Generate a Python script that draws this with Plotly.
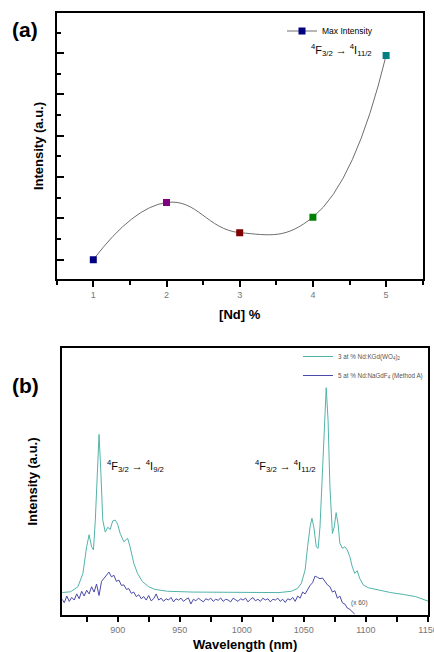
import plotly.graph_objects as go

# ---- Panel (a) data ----
nd_percent = [1, 2, 3, 4, 5]
max_intensity = [0.0, 2.77, 1.31, 2.06, 9.89]
point_colors = ["#000080", "#800080", "#800000", "#008000", "#008080"]

# ---- Panel (b) data ----
kgw_wl = [855, 862, 868, 872, 875, 877, 879, 880.5, 882, 883.5, 885, 886.5, 888, 890, 892, 894,
          896, 898, 900, 902, 905, 908, 910, 913, 916, 920, 925, 930, 940, 960, 1000, 1030, 1040,
          1045, 1048, 1051, 1053, 1055, 1056.5, 1058, 1060, 1061.5, 1063, 1065, 1066.5, 1068,
          1069.5, 1071, 1073, 1074.5, 1076, 1077.5, 1079, 1081, 1083, 1085, 1087, 1089, 1091,
          1093, 1095, 1098, 1102, 1110, 1120, 1130, 1140, 1150]
kgw_int = [0.083, 0.086, 0.105, 0.155, 0.255, 0.30, 0.255, 0.243, 0.355, 0.53, 0.677, 0.53, 0.355,
           0.31, 0.328, 0.32, 0.352, 0.355, 0.34, 0.305, 0.274, 0.287, 0.255, 0.193, 0.155, 0.124,
           0.105, 0.095, 0.088, 0.085, 0.083, 0.083, 0.088, 0.099, 0.118, 0.168, 0.255, 0.33,
           0.362, 0.33, 0.255, 0.249, 0.33, 0.543, 0.73, 0.852, 0.73, 0.48, 0.305, 0.33, 0.383,
           0.343, 0.268, 0.249, 0.255, 0.243, 0.218, 0.18, 0.155, 0.165, 0.136, 0.111, 0.101,
           0.093, 0.083, 0.076, 0.068, 0.051]

ngf_wl = list(range(855, 1092, 2))
ngf_int = [0.060, 0.045, 0.070, 0.050, 0.065, 0.055, 0.078, 0.060, 0.088, 0.070,
           0.092, 0.078, 0.105, 0.085, 0.115, 0.072, 0.125, 0.138, 0.150, 0.160,
           0.142, 0.148, 0.125, 0.130, 0.110, 0.112, 0.095, 0.098, 0.080, 0.085,
           0.068, 0.075, 0.060, 0.068, 0.055, 0.072, 0.052, 0.060, 0.078, 0.055,
           0.062, 0.050, 0.060, 0.055, 0.065, 0.048, 0.060, 0.055, 0.062, 0.050,
           0.058, 0.063, 0.040, 0.058, 0.052, 0.062, 0.055, 0.048, 0.060, 0.055,
           0.062, 0.050, 0.058, 0.054, 0.063, 0.050, 0.058, 0.055, 0.048, 0.062,
           0.056, 0.050, 0.060, 0.055, 0.062, 0.048, 0.058, 0.064, 0.052, 0.058,
           0.050, 0.062, 0.055, 0.060, 0.048, 0.058, 0.055, 0.062, 0.050, 0.058,
           0.046, 0.060, 0.055, 0.065, 0.050, 0.070, 0.062, 0.085, 0.078, 0.095,
           0.110, 0.120, 0.145, 0.140, 0.135, 0.138, 0.125, 0.112, 0.105, 0.085,
           0.090, 0.062, 0.070, 0.045, 0.040, 0.025, 0.020, 0.010, 0.002]

W, H = 434, 652
def px(x): return x / W
def py(y): return 1 - y / H

FONT = "Liberation Sans, Arial, sans-serif"

fig = go.Figure()

fig.add_trace(go.Scatter(
    x=nd_percent, y=max_intensity, mode="lines+markers", name="Max Intensity",
    line=dict(shape="spline", smoothing=1.3, color="#6e6e6e", width=1),
    marker=dict(symbol="square", size=7, color=point_colors, line=dict(width=0)),
    xaxis="x", yaxis="y", legend="legend"))

fig.add_trace(go.Scatter(
    x=kgw_wl, y=kgw_int, mode="lines", name="3 at % Nd:KGd(WO<sub>4</sub>)<sub>2</sub>",
    line=dict(color="#52b3ab", width=1), xaxis="x2", yaxis="y2", legend="legend2"))
fig.add_trace(go.Scatter(
    x=ngf_wl, y=ngf_int, mode="lines", name="5 at % Nd:NaGdF<sub>4</sub> (Method A)",
    line=dict(color="#4a4aa8", width=1), xaxis="x2", yaxis="y2", legend="legend2"))

axis_common = dict(showline=True, linecolor="black", linewidth=2, mirror=True,
                   showgrid=False, zeroline=False, automargin=False,
                   ticklabeloverflow="allow")

fig.update_layout(
    width=W, height=H, margin=dict(l=0, r=0, t=0, b=0, autoexpand=False),
    paper_bgcolor="white", plot_bgcolor="white",
    font=dict(family=FONT, color="black"),
    xaxis=dict(domain=[px(56.7), px(422.7)], anchor="y", range=[0.5, 5.5],
               tickmode="array", tickvals=nd_percent, ticks="outside", ticklen=6,
               tickwidth=1.5, tickcolor="black",
               minor=dict(dtick=0.5, tick0=0.5, ticks="outside", ticklen=4, tickcolor="black"),
               tickfont=dict(size=9, color="#777777"),
               title=dict(text="<b>[Nd] %</b>", font=dict(size=13), standoff=11),
               **axis_common),
    yaxis=dict(domain=[py(279.3), py(12.7)], anchor="x", range=[-0.95, 11.96],
               tick0=0, dtick=2, ticks="inside", ticklen=7, tickwidth=1.5, tickcolor="black",
               minor=dict(dtick=1, tick0=0, ticks="inside", ticklen=4, tickcolor="black"),
               showticklabels=False,
               title=dict(text="<b>Intensity (a.u.)</b>", font=dict(size=13), standoff=8),
               **axis_common),
    xaxis2=dict(domain=[px(62.3), px(428)], anchor="y2", range=[855.4, 1150],
                tick0=900, dtick=50, ticks="outside", ticklen=5, tickwidth=1.5, tickcolor="black",
                minor=dict(dtick=25, tick0=875, ticks="outside", ticklen=5, tickcolor="black"),
                tickfont=dict(size=9, color="#777777"),
                title=dict(text="<b>Wavelength (nm)</b>", font=dict(size=13), standoff=12),
                **axis_common),
    yaxis2=dict(domain=[py(614.7), py(348.3)], anchor="x2", range=[0, 1],
                ticks="", showticklabels=False,
                title=dict(text="<b>Intensity (a.u.)</b>", font=dict(size=13), standoff=20),
                **axis_common),
    legend=dict(x=px(282), y=py(31), xanchor="left", yanchor="middle",
                bgcolor="rgba(0,0,0,0)", font=dict(size=8.5, color="black"),
                itemwidth=30, tracegroupgap=0),
    legend2=dict(x=px(298), y=py(366), xanchor="left", yanchor="middle",
                 bgcolor="rgba(0,0,0,0)", font=dict(size=6.3, color="#555555"),
                 itemwidth=30, tracegroupgap=0),
    showlegend=True,
)

def note(x, y, text, size, **kw):
    fig.add_annotation(x=x, y=y, xref="paper", yref="paper", text=text, showarrow=False,
                       xanchor="center", yanchor="middle", font=dict(size=size), **kw)

note(px(25), py(30), "<b>(a)</b>", 21)
note(px(25), py(385), "<b>(b)</b>", 21)
note(px(341), py(50), "<sup>4</sup>F<sub>3/2</sub> \u2192 <sup>4</sup>I<sub>11/2</sub>", 11)
note(px(135), py(466), "<sup>4</sup>F<sub>3/2</sub> \u2192 <sup>4</sup>I<sub>9/2</sub>", 11)
note(px(285), py(466), "<sup>4</sup>F<sub>3/2</sub> \u2192 <sup>4</sup>I<sub>11/2</sub>", 11)
fig.add_annotation(x=1095, y=0.043, xref="x2", yref="y2", text="(x 60)",
                   showarrow=False, xanchor="center", yanchor="middle",
                   font=dict(size=6.5, color="#555555"))

fig.write_html("out.html")
